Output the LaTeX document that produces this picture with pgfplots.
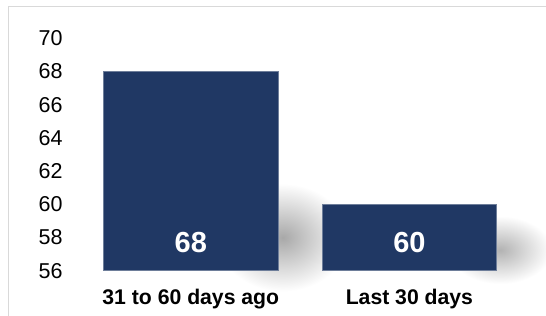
\documentclass[border=0pt]{standalone}
\usepackage{pgfplots}
\pgfplotsset{compat=1.18}
\usepackage{fontspec}
\setmainfont{Liberation Sans}
\definecolor{barblue}{HTML}{203864}
\definecolor{frame}{HTML}{D9D9D9}
\begin{document}
\begin{tikzpicture}
\useasboundingbox (0,0) rectangle (546bp,316bp);
\fill[white] (0,0) rectangle (546bp,316bp);
\begin{axis}[
  at={(81.5bp,45.3bp)}, anchor=south west,
  scale only axis, width=437.2bp, height=232.4bp,
  xmin=-0.5, xmax=1.5, ymin=56, ymax=70,
  ytick={56,58,...,70},
  xtick={0,1}, xticklabels={31 to 60 days ago, Last 30 days},
  axis line style={draw=none}, major tick length=0pt,
  axis on top,
  /pgf/number format/assume math mode=true,
  yticklabel style={font=\fontsize{21.5bp}{24bp}\selectfont, anchor=east, inner sep=0pt, xshift=-18.8bp},
  xticklabel style={font=\fontsize{21.2bp}{24bp}\selectfont\bfseries, anchor=north, inner sep=0pt, yshift=-18.5bp},
  clip=false,
]
% soft shadows (radial shading on white)
\addplot[draw=none, shading=radial, inner color=black!34, outer color=white]
  coordinates {(0.12,54.75) (0.72,54.75) (0.72,61.25) (0.12,61.25)} -- cycle;
\addplot[draw=none, shading=radial, inner color=black!30, outer color=white]
  coordinates {(1.18,55.2) (1.65,55.2) (1.65,59.3) (1.18,59.3)} -- cycle;
% bars
\addplot[ybar, bar width=174.6bp, bar shift=0pt, draw=barblue!65!white, line width=0.6bp, fill=barblue] coordinates {(0,68) (1,60)};
% value labels
\addplot[only marks, mark=none, point meta=explicit symbolic,
  nodes near coords,
  every node near coord/.append style={anchor=center, text=white, font=\fontsize{29bp}{31bp}\selectfont\bfseries, inner sep=0pt}]
  coordinates {(0,57.72) [68] (1,57.72) [60]};
\end{axis}
\draw[frame, line width=1.5bp] (8.5bp,-5bp) -- (8.5bp,309.7bp) -- (560bp,309.7bp);
\end{tikzpicture}
\end{document}
